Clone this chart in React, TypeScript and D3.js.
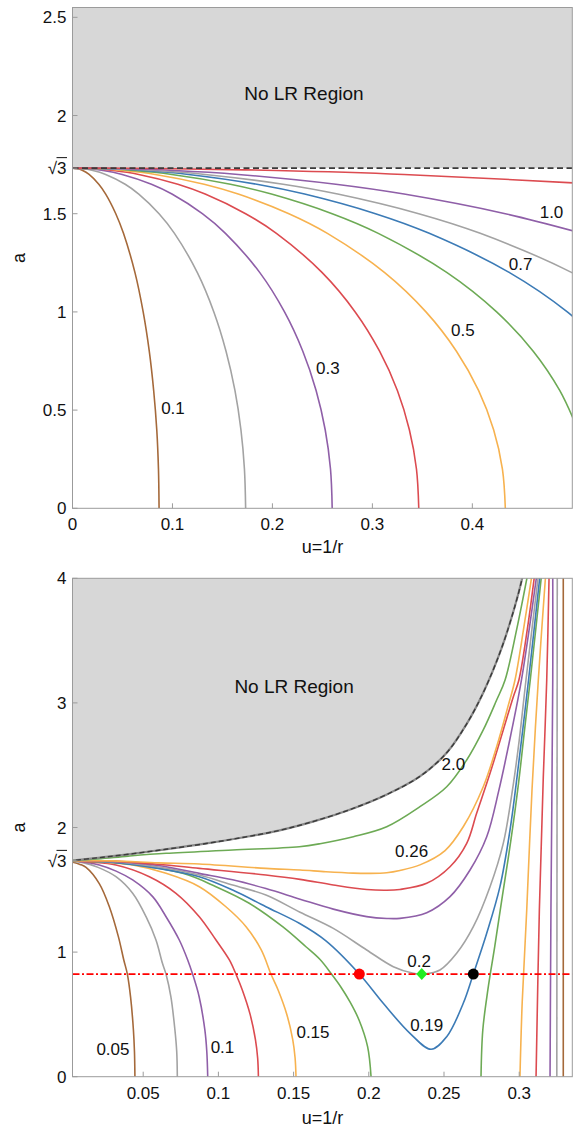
import React from "react";
import * as d3 from "d3";

type P = [number, number];

// ---------------- top panel data ----------------
const topParams = [0.1, 0.2, 0.3, 0.4, 0.5, 0.6, 0.7, 0.8, 1.0, 2.0];
const topALevels = [1.7321, 1.73, 1.72, 1.7, 1.65, 1.6, 1.5, 1.4, 1.2, 1.0, 0.8, 0.6, 0.4, 0.2, 0];
// u read at each a-level, one row per curve
const topU: number[][] = [
  [0, 0.0042, 0.0102, 0.0166, 0.0263, 0.0332, 0.0433, 0.051, 0.0625, 0.0707, 0.0768, 0.0812, 0.0843, 0.086, 0.0866],
  [0, 0.0084, 0.0204, 0.0332, 0.0527, 0.0663, 0.0866, 0.102, 0.1249, 0.1414, 0.1536, 0.1625, 0.1685, 0.172, 0.1732],
  [0, 0.0126, 0.0306, 0.0497, 0.079, 0.0995, 0.1299, 0.153, 0.1874, 0.2121, 0.2304, 0.2437, 0.2528, 0.2581, 0.2598],
  [0, 0.0168, 0.0408, 0.0663, 0.1054, 0.1327, 0.1732, 0.204, 0.2498, 0.2828, 0.3072, 0.325, 0.337, 0.3441, 0.3464],
  [0, 0.0211, 0.051, 0.0829, 0.1317, 0.1658, 0.2165, 0.255, 0.3123, 0.3536, 0.3841, 0.4062, 0.4213, 0.4301, 0.433],
  [0, 0.0253, 0.0612, 0.0995, 0.158, 0.199, 0.2598, 0.3059, 0.3747, 0.4243, 0.4609, 0.4874, 0.5056],
  [0, 0.0295, 0.0714, 0.1161, 0.1844, 0.2322, 0.3031, 0.3569, 0.4372, 0.495, 0.5377],
  [0, 0.0337, 0.0816, 0.1326, 0.2107, 0.2653, 0.3464, 0.4079, 0.4996, 0.5657],
  [0, 0.0421, 0.102, 0.1658, 0.2634, 0.3317, 0.433, 0.5099],
  [0, 0.0843, 0.204, 0.3317, 0.5268],
];
const topXTicks = [0, 0.1, 0.2, 0.3, 0.4];
const topYTicks = [0, 0.5, 1, 1.5, 2, 2.5];
const topCurveLabels = ["0.1", "0.3", "0.5", "0.7", "1.0"];
const topCurveLabelAt: P[] = [[0.1005, 0.511], [0.2555, 0.715], [0.3905, 0.908], [0.4483, 1.244], [0.4792, 1.506]];
const topBoundaryA = Math.sqrt(3);

// ---------------- bottom panel data ----------------
const c005L: P[] = [[0, 1.732], [0.008, 1.704], [0.012, 1.68], [0.0208, 1.55], [0.0275, 1.364], [0.0335, 1.124], [0.0371, 0.937], [0.0395, 0.822], [0.0416, 0.64], [0.0435, 0.375], [0.0442, 0.2], [0.0445, 0]];
const c005R: P[] = [[0.3293, 0], [0.3293, 4.1]];
const c0075L: P[] = [[0, 1.732], [0.01, 1.718], [0.02, 1.68], [0.0319, 1.605], [0.043, 1.472], [0.0519, 1.284], [0.0585, 1.097], [0.0628, 0.91], [0.0652, 0.822], [0.0684, 0.642], [0.0711, 0.375], [0.0723, 0.2], [0.0727, 0]];
const c0075R: P[] = [[0.325, 0], [0.3253, 4.1]];
const c01L: P[] = [[0, 1.732], [0.01, 1.724], [0.0208, 1.699], [0.032, 1.65], [0.043, 1.579], [0.0563, 1.445], [0.0652, 1.284], [0.074, 1.097], [0.0796, 0.937], [0.0829, 0.822], [0.0872, 0.642], [0.091, 0.375], [0.0923, 0.2], [0.0929, 0]];
const c01R: P[] = [[0.3205, 0], [0.3211, 1.338], [0.3223, 3.184], [0.3223, 4.1]];
const c0125L: P[] = [[0, 1.732], [0.015, 1.722], [0.0319, 1.699], [0.0541, 1.605], [0.0718, 1.472], [0.0873, 1.284], [0.0984, 1.097], [0.1073, 0.937], [0.1117, 0.822], [0.1159, 0.696], [0.1211, 0.5], [0.1246, 0.3], [0.1261, 0.15], [0.1266, 0]];
const c0125R: P[] = [[0.3112, 0], [0.3134, 1.338], [0.316, 2.4], [0.3183, 3.184], [0.32, 4.1]];
const c015L: P[] = [[0, 1.732], [0.02, 1.725], [0.043, 1.699], [0.0652, 1.632], [0.0873, 1.525], [0.105, 1.364], [0.1184, 1.204], [0.1285, 1.017], [0.135, 0.822], [0.1397, 0.696], [0.1455, 0.5], [0.1494, 0.3], [0.151, 0.15], [0.1516, 0]];
const c015R: P[] = [[0.3005, 0], [0.302, 0.6], [0.305, 1.338], [0.3085, 2.3], [0.3127, 3.184], [0.318, 4.1]];
const c0175L: P[] = [[0, 1.732], [0.03, 1.72], [0.0762, 1.632], [0.0984, 1.525], [0.1205, 1.392], [0.1427, 1.204], [0.1582, 1.043], [0.1676, 0.94], [0.1753, 0.822], [0.1813, 0.722], [0.1875, 0.6], [0.1935, 0.455], [0.1992, 0.241], [0.2015, 0]];
const c0175R: P[] = [[0.2746, 0], [0.2758, 0.375], [0.2792, 0.7], [0.2838, 1.05], [0.2888, 1.45], [0.2945, 1.9], [0.2995, 2.35], [0.3037, 2.8], [0.3075, 3.2], [0.3155, 4.1]];
const c019: P[] = [[0, 1.732], [0.03, 1.72], [0.06, 1.672], [0.0873, 1.605], [0.1095, 1.498], [0.1316, 1.364], [0.1538, 1.231], [0.1715, 1.09], [0.1937, 0.824], [0.2096, 0.589], [0.2274, 0.348], [0.2414, 0.22], [0.2518, 0.321], [0.2628, 0.589], [0.2695, 0.824], [0.2784, 1.151], [0.2872, 1.525], [0.2939, 1.98], [0.2985, 2.4], [0.3025, 2.8], [0.3062, 3.184], [0.3145, 4.1]];
const c02: P[] = [[0, 1.732], [0.03, 1.726], [0.06, 1.683], [0.0873, 1.618], [0.1095, 1.538], [0.1316, 1.458], [0.1543, 1.32], [0.1764, 1.19], [0.1986, 1.017], [0.2163, 0.883], [0.2296, 0.83], [0.237, 0.824], [0.2473, 0.856], [0.2584, 0.99], [0.2695, 1.204], [0.2806, 1.525], [0.2894, 1.873], [0.2955, 2.3], [0.3, 2.7], [0.3045, 3.184], [0.3135, 4.1]];
const c022: P[] = [[0, 1.732], [0.03, 1.728], [0.06, 1.695], [0.0873, 1.632], [0.1095, 1.58], [0.1316, 1.51], [0.1543, 1.425], [0.1764, 1.345], [0.1986, 1.285], [0.212, 1.27], [0.2207, 1.271], [0.2385, 1.316], [0.254, 1.445], [0.2673, 1.659], [0.2784, 1.926], [0.2865, 2.3], [0.2945, 2.75], [0.3015, 3.184], [0.3125, 4.1]];
const c024: P[] = [[0, 1.732], [0.03, 1.73], [0.06, 1.705], [0.0873, 1.672], [0.1316, 1.619], [0.1543, 1.584], [0.1764, 1.539], [0.1986, 1.502], [0.2119, 1.496], [0.2207, 1.503], [0.2385, 1.552], [0.254, 1.685], [0.2651, 1.873], [0.2717, 2.114], [0.2806, 2.435], [0.2894, 2.783], [0.2961, 3.05], [0.2998, 3.184], [0.3055, 3.6], [0.311, 4.1]];
const c026: P[] = [[0, 1.732], [0.03, 1.732], [0.06, 1.716], [0.0873, 1.707], [0.1316, 1.672], [0.1543, 1.659], [0.1715, 1.645], [0.1897, 1.634], [0.2, 1.632], [0.2119, 1.637], [0.2207, 1.655], [0.234, 1.7], [0.2507, 1.815], [0.263, 2.01], [0.2761, 2.327], [0.285, 2.648], [0.2925, 2.97], [0.2972, 3.184], [0.303, 3.6], [0.3094, 4.1]];
const c20: P[] = [[0, 1.732], [0.02, 1.748], [0.04, 1.77], [0.0652, 1.793], [0.1095, 1.819], [0.1538, 1.846], [0.1676, 1.87], [0.1897, 1.926], [0.2119, 2.006], [0.234, 2.167], [0.2518, 2.327], [0.2651, 2.542], [0.2761, 2.783], [0.285, 3.023], [0.2906, 3.184], [0.2985, 3.6], [0.3067, 4.1]];
const noLRBoundary: P[] = [[0, 1.732], [0.02, 1.757], [0.04, 1.785], [0.065, 1.825], [0.09, 1.868], [0.115, 1.918], [0.14, 1.975], [0.165, 2.055], [0.19, 2.155], [0.212, 2.265], [0.234, 2.41], [0.2518, 2.6], [0.265, 2.83], [0.276, 3.08], [0.288, 3.43], [0.297, 3.77], [0.302, 4.0], [0.304, 4.12]];
const bottomCurves: P[][] = [c005L, c005R, c0075L, c0075R, c01L, c01R, c0125L, c0125R, c015L, c015R, c0175L, c0175R, c019, c02, c022, c024, c026, c20];
const refA = 0.824;
const markU = [0.1937, 0.2352, 0.2695];
const bottomXTicks = [0.05, 0.1, 0.15, 0.2, 0.25, 0.3];
const bottomYTicks = [0, 1, 2, 3, 4];
const bottomCurveLabels = ["0.05", "0.1", "0.15", "0.19", "0.2", "0.26", "2.0"];
const bottomCurveLabelAt: P[] = [[0.0299, 0.222], [0.1027, 0.241], [0.1629, 0.359], [0.2385, 0.415], [0.2334, 0.929], [0.2285, 1.811], [0.2562, 2.512]];

// ---------------- styles ----------------
const FONT = "'Liberation Sans', Arial, Helvetica, sans-serif";
const COL = {
  brown: "#a5693a",
  gray: "#a3a3a3",
  purple: "#8f5fa8",
  red: "#dc4b50",
  orange: "#f7b24f",
  green: "#6daa55",
  blue: "#3c7bb6",
};
const topColors = [COL.brown, COL.gray, COL.purple, COL.red, COL.orange, COL.green, COL.blue, COL.gray, COL.purple, COL.red];
const bottomColors = [
  COL.brown, COL.brown, COL.gray, COL.gray, COL.purple, COL.purple, COL.red, COL.red,
  COL.orange, COL.orange, COL.green, COL.green, COL.blue, COL.gray, COL.purple, COL.red, COL.orange, COL.green,
];
const FRAME = "#9b9b9b";
const FILL = "#d7d7d7";

function fmt(v: number) {
  return String(v);
}

function Sqrt3({ x, y }: { x: number; y: number }) {
  return (
    <g>
      <text x={x} y={y + 6} textAnchor="end" fontSize={17} fontFamily={FONT} fill="#111">
        √3
      </text>
      <line x1={x - 10} x2={x + 0.5} y1={y - 10.5} y2={y - 10.5} stroke="#111" strokeWidth={1} />
    </g>
  );
}

export default function App() {
  const L = 72.5, R = 572.3;
  const xT = d3.scaleLinear().domain([0, 0.5]).range([L, R]);
  const yT = d3.scaleLinear().domain([0, 2.55]).range([508.3, 7.5]);
  const xB = d3.scaleLinear().domain([0.003, 0.3353]).range([L, R]);
  const yB = d3.scaleLinear().domain([0, 4]).range([1076.7, 578.3]);

  const lineT = d3.line<P>().x((d) => xT(d[0])).y((d) => yT(d[1])).curve(d3.curveCatmullRom.alpha(0.5));
  const lineB = d3.line<P>().x((d) => xB(d[0])).y((d) => yB(d[1])).curve(d3.curveCatmullRom.alpha(0.5));

  const topTop = yT(2.55), topBot = yT(0);
  const botTop = yB(4), botBot = yB(0);

  const fillPath =
    (lineB(noLRBoundary) as string) +
    `L${xB(0.31)},${yB(4.6)}L${xB(-0.01)},${yB(4.6)}L${xB(-0.01)},${yB(1.732)}Z`;

  const tickLen = 5;

  return (
    <svg width={577} height={1131} style={{ position: "absolute", left: 0, top: 0 }} fontFamily={FONT}>
      <defs>
        <clipPath id="clipTop">
          <rect x={L} y={topTop} width={R - L} height={topBot - topTop} />
        </clipPath>
        <clipPath id="clipBot">
          <rect x={L} y={botTop} width={R - L} height={botBot - botTop} />
        </clipPath>
      </defs>
      <rect x={0} y={0} width={577} height={1131} fill="#fff" />

      {/* ============ TOP PANEL ============ */}
      <g clipPath="url(#clipTop)">
        <rect x={L} y={topTop} width={R - L} height={yT(topBoundaryA) - topTop} fill={FILL} />
        {topU.map((row, i) => (
          <path
            key={"t" + i}
            d={lineT(row.map((u, j) => [u, topALevels[j]] as P)) as string}
            fill="none"
            stroke={topColors[i]}
            strokeWidth={1.6}
          />
        ))}
        <line x1={L} x2={R} y1={yT(topBoundaryA)} y2={yT(topBoundaryA)} stroke="#3a3a3a" strokeWidth={1.6} strokeDasharray="6,3.5" />
      </g>
      <rect x={L} y={topTop} width={R - L} height={topBot - topTop} fill="none" stroke={FRAME} strokeWidth={1} />
      {topXTicks.map((t) => (
        <g key={"tx" + t}>
          <line x1={xT(t)} x2={xT(t)} y1={topBot} y2={topBot - tickLen} stroke={FRAME} />
          <text x={xT(t)} y={topBot + 22} textAnchor="middle" fontSize={17} fill="#111">{fmt(t)}</text>
        </g>
      ))}
      {topYTicks.map((t) => (
        <g key={"ty" + t}>
          <line x1={L} x2={L + tickLen} y1={yT(t)} y2={yT(t)} stroke={FRAME} />
          <text x={L - 6} y={yT(t) + 6} textAnchor="end" fontSize={17} fill="#111">{fmt(t)}</text>
        </g>
      ))}
      <line x1={L} x2={L + tickLen} y1={yT(topBoundaryA)} y2={yT(topBoundaryA)} stroke={FRAME} />
      <Sqrt3 x={L - 6} y={yT(topBoundaryA)} />
      {topCurveLabels.map((s, i) => (
        <text key={"tl" + i} x={xT(topCurveLabelAt[i][0])} y={yT(topCurveLabelAt[i][1])} dy="0.35em" textAnchor="middle" fontSize={17} fill="#111">
          {s}
        </text>
      ))}
      <text x={xT(0.2315)} y={yT(2.115)} dy="0.35em" textAnchor="middle" fontSize={19} fill="#111">No LR Region</text>
      <text x={(L + R) / 2} y={553} textAnchor="middle" fontSize={18} fill="#111">u=1/r</text>
      <text transform={`translate(25,${(topTop + topBot) / 2}) rotate(-90)`} textAnchor="middle" fontSize={18} fill="#111">a</text>

      {/* ============ BOTTOM PANEL ============ */}
      <g clipPath="url(#clipBot)">
        <path d={fillPath} fill={FILL} />
        {bottomCurves.map((pts, i) => (
          <path key={"b" + i} d={lineB(pts) as string} fill="none" stroke={bottomColors[i]} strokeWidth={1.6} />
        ))}
        <path d={lineB(noLRBoundary) as string} fill="none" stroke="#8a8a8a" strokeWidth={2.2} />
        <path d={lineB(noLRBoundary) as string} fill="none" stroke="#3a3a3a" strokeWidth={1.4} strokeDasharray="5,3" />
        <line x1={L} x2={R} y1={yB(refA)} y2={yB(refA)} stroke="#ff0000" strokeWidth={1.7} strokeDasharray="7,2.5,2,2.5" />
        <circle cx={xB(markU[0])} cy={yB(refA)} r={5.5} fill="#ff0000" />
        <path
          d={`M${xB(markU[1])},${yB(refA) - 6}L${xB(markU[1]) + 5.5},${yB(refA)}L${xB(markU[1])},${yB(refA) + 6}L${xB(markU[1]) - 5.5},${yB(refA)}Z`}
          fill="#22ee22"
        />
        <circle cx={xB(markU[2])} cy={yB(refA)} r={5.5} fill="#000" />
      </g>
      <rect x={L} y={botTop} width={R - L} height={botBot - botTop} fill="none" stroke={FRAME} strokeWidth={1} />
      {bottomXTicks.map((t) => (
        <g key={"bx" + t}>
          <line x1={xB(t)} x2={xB(t)} y1={botBot} y2={botBot - tickLen} stroke={FRAME} />
          <text x={xB(t)} y={botBot + 22} textAnchor="middle" fontSize={17} fill="#111">{fmt(t)}</text>
        </g>
      ))}
      {bottomYTicks.map((t) => (
        <g key={"by" + t}>
          <line x1={L} x2={L + tickLen} y1={yB(t)} y2={yB(t)} stroke={FRAME} />
          <text x={L - 6} y={yB(t) + 6} textAnchor="end" fontSize={17} fill="#111">{fmt(t)}</text>
        </g>
      ))}
      <line x1={L} x2={L + tickLen} y1={yB(Math.sqrt(3))} y2={yB(Math.sqrt(3))} stroke={FRAME} />
      <Sqrt3 x={L - 6} y={yB(Math.sqrt(3))} />
      {bottomCurveLabels.map((s, i) => (
        <text key={"bl" + i} x={xB(bottomCurveLabelAt[i][0])} y={yB(bottomCurveLabelAt[i][1])} dy="0.35em" textAnchor="middle" fontSize={17} fill="#111">
          {s}
        </text>
      ))}
      <text x={xB(0.1503)} y={yB(3.13)} dy="0.35em" textAnchor="middle" fontSize={19} fill="#111">No LR Region</text>
      <text x={(L + R) / 2} y={1124} textAnchor="middle" fontSize={18} fill="#111">u=1/r</text>
      <text transform={`translate(25,${(botTop + botBot) / 2}) rotate(-90)`} textAnchor="middle" fontSize={18} fill="#111">a</text>
    </svg>
  );
}
